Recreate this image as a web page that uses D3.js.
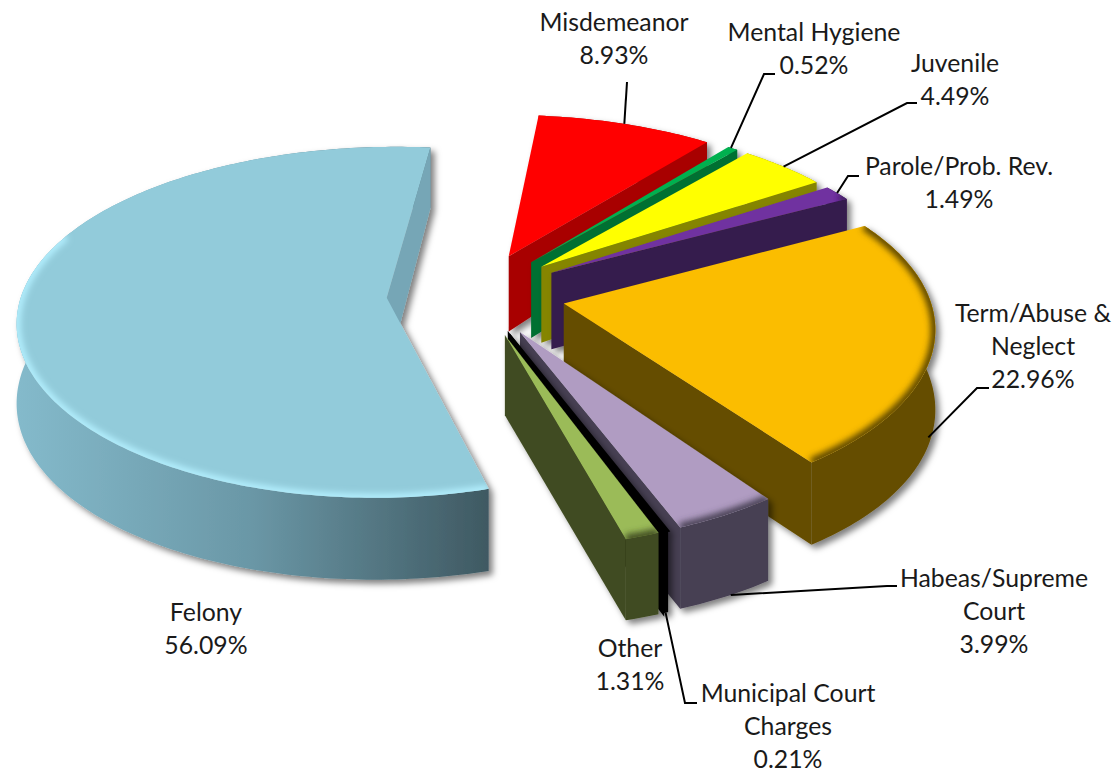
<!DOCTYPE html>
<html><head><meta charset="utf-8">
<style>html,body{margin:0;padding:0;background:#fff}svg{display:block}text{font-family:Lato,"Open Sans",sans-serif;font-size:24.8px;fill:#1a1a1a}</style>
<script src="https://cdn.jsdelivr.net/npm/d3@7"></script>
</head><body><svg id="c" width="1114" height="770"></svg>
<script>
// data
const categories=["Misdemeanor","Mental Hygiene","Juvenile","Parole/Prob. Rev.","Term/Abuse & Neglect","Habeas/Supreme Court","Municipal Court Charges","Other","Felony"];
const shares=[8.93,0.52,4.49,1.49,22.96,3.99,0.21,1.31,56.09];
const shareLabels=["8.93%","0.52%","4.49%","1.49%","22.96%","3.99%","0.21%","1.31%","56.09%"];
// styles
const topColors=["#FF0000","#00B050","#FFFF00","#7030A0","#FBBD00","#B09CC2","#000000","#9BBB59","#92CBDA"];
const wallColors=["#A80000","#007033","#858500","#361A4D","#654D00","#463F52","#000000","#404B22","#76A6B6"];
const bevelColors=["#8a0000","#005a28","#6d6d00","#2a1440","#5a4500","#463F52","#000000","#404B22","#B4F0FF"];
// label layout: text lines, centre, first-baseline; leader elbows
const labelLines=[["Misdemeanor","8.93%"],["Mental Hygiene","0.52%"],["Juvenile","4.49%"],["Parole/Prob. Rev.","1.49%"],["Term/Abuse &","Neglect","22.96%"],["Habeas/Supreme","Court","3.99%"],["Municipal Court","Charges","0.21%"],["Other","1.31%"],["Felony","56.09%"]];
const labelPos=[[614,31],[814,41],[955,72],[959,175],[1033,322],[994,587],[788,702],[630,657],[206,621]];
const leaders=[
 {t:.49,z:0,pts:[[627,82]]},
 {t:.3,z:0,pts:[[764,74],[775,74]]},
 {t:.5,z:0,pts:[[907,103],[917,103]]},
 {t:.5,z:0,pts:[[848,176],[859,176]]},
 {t:.58,z:.9,pts:[[977,388],[989,388]]},
 {t:.45,z:1,pts:[[887,586],[897,586]]},
 {t:.5,z:1,pts:[[685,703],[697,703]]},
 null,null];

// projection
const cx=476,cy=294,Rx=365,Ry=171,perspX=.12,perspY=.14,explode=.245,startDeg=6;
const rad=d=>d*Math.PI/180;
const sx=d3.scaleLinear().domain([0,1]).range([cx,cx+Rx]);
const sy=d3.scaleLinear().domain([0,1]).range([cy,cy+Ry]);
const wallHeight=v=>78+11*v-7*v*v;
function project(mid,b,r,z){
  const u=explode*Math.sin(mid)+r*Math.sin(b), v=-explode*Math.cos(mid)-r*Math.cos(b);
  return [sx(u/(1-perspX*v)), sy(v/(1-perspY*v))+wallHeight(v)*z];
}
const area=p=>d3.polygonArea(p);
const line=d3.line();
const pie=d3.pie().sort(null).startAngle(rad(startDeg)).endAngle(rad(startDeg+360));
const arcs=pie(shares).map((a,i)=>({...a,i,mid:(a.startAngle+a.endAngle)/2}));

const svg=d3.select("#c");
const defs=svg.append("defs");
const sh=defs.append("filter").attr("id","shadow").attr("filterUnits","userSpaceOnUse").attr("x",0).attr("y",0).attr("width",1114).attr("height",770);
sh.append("feDropShadow").attr("dx",4).attr("dy",4).attr("stdDeviation",3).attr("flood-color","#000").attr("flood-opacity",.5);
const blur=defs.append("filter").attr("id","blur").attr("filterUnits","userSpaceOnUse").attr("x",0).attr("y",0).attr("width",1114).attr("height",770);
blur.append("feGaussianBlur").attr("stdDeviation",3);

function arcPts(a,z,from,to){
  const s=from===undefined?a.startAngle:from,e=to===undefined?a.endAngle:to;
  const n=Math.max(2,Math.ceil((e-s)/rad(1)));
  return d3.range(n+1).map(k=>project(a.mid,s+(e-s)*k/n,1,z));
}
// felony rim gradient
const fel=arcs[arcs.length-1];
const fx=d3.extent(arcPts(fel,0),d=>d[0]);
const grad=defs.append("linearGradient").attr("id","felRim").attr("gradientUnits","userSpaceOnUse").attr("x1",fx[0]).attr("x2",fx[1]).attr("y1",0).attr("y2",0);
grad.append("stop").attr("offset",0).attr("stop-color","#84BACB");
grad.append("stop").attr("offset",.5).attr("stop-color","#6A97A6");
grad.append("stop").attr("offset",1).attr("stop-color","#3F5962");

const order=[...arcs].sort((a,b)=>(-Math.cos(a.mid))-(-Math.cos(b.mid)));
const bevelFrom=rad(60),bevelTo=rad(292);
order.forEach(a=>{
  const i=a.i,g=svg.append("g").attr("filter","url(#shadow)");
  const thin=shares[i]<.3;
  const apexT=project(a.mid,a.mid,0,0),apexB=project(a.mid,a.mid,0,1);
  const top=arcPts(a,0),bot=arcPts(a,1);
  const wall=(b)=>[apexT,project(a.mid,b,1,0),project(a.mid,b,1,1),apexB];
  g.append("path").attr("d",line(top.concat(bot.slice().reverse()))+"Z").attr("fill",i===8?"url(#felRim)":wallColors[i]);
  const ws=wall(a.startAngle),we=wall(a.endAngle);
  [[ws,area(ws)>0],[we,area(we)<0]].forEach(([w,vis])=>{
    if(vis) g.append("path").attr("d",line(w)+"Z").attr("fill",wallColors[i]).attr("stroke",thin?wallColors[i]:"none").attr("stroke-width",thin?2.5:0);
  });
  const topD=line([apexT,...top])+"Z";
  g.append("path").attr("d",topD).attr("fill",topColors[i]).attr("stroke",thin?topColors[i]:"none").attr("stroke-width",thin?2.5:0);
  const s=Math.max(a.startAngle,bevelFrom),e=Math.min(a.endAngle,bevelTo);
  if(e>s){
    const clipId="clip"+i;
    defs.append("clipPath").attr("id",clipId).append("path").attr("d",topD);
    g.append("g").attr("clip-path",`url(#${clipId})`).append("path").attr("d",line(arcPts(a,0,s,e))).attr("fill","none")
     .attr("stroke",bevelColors[i]).attr("stroke-width",i===8?8:9).attr("filter","url(#blur)");
  }
});

// leaders
arcs.forEach(a=>{
  const L=leaders[a.i]; if(!L) return;
  const start=project(a.mid,a.startAngle+(a.endAngle-a.startAngle)*L.t,1,L.z);
  svg.append("path").attr("d",line([start,...L.pts])).attr("fill","none").attr("stroke","#000").attr("stroke-width",2);
});
// labels
labelLines.forEach((lines,i)=>{
  const t=svg.append("text").attr("text-anchor","middle");
  lines.forEach((s,k)=>t.append("tspan").attr("x",labelPos[i][0]).attr("y",labelPos[i][1]+k*33).text(s));
});
</script></body></html>
